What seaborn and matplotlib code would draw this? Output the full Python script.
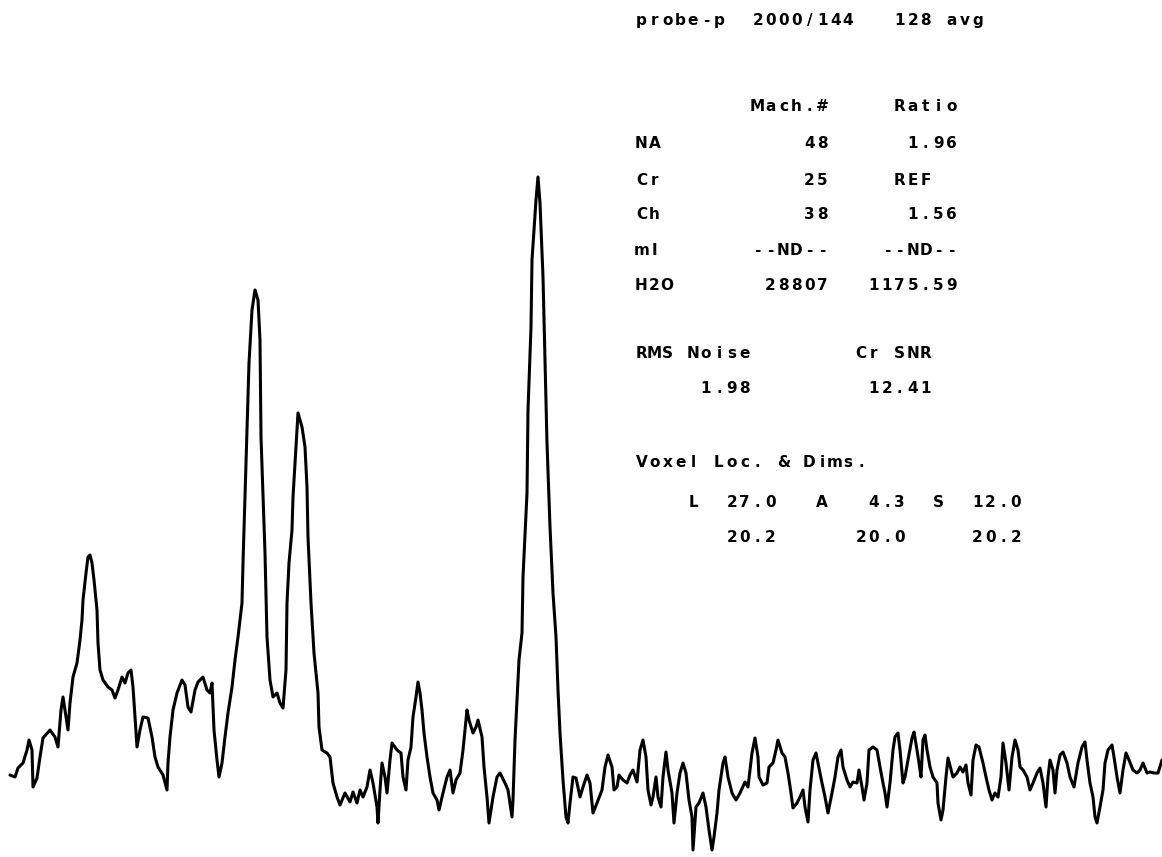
"""MR spectroscopy printout: single-voxel spectrum trace with the metabolite table."""
import matplotlib
matplotlib.use("Agg")
import matplotlib.pyplot as plt
import seaborn as sns
import pandas as pd

# spectrum (point position, intensity)
points = [10, 15, 18, 23, 27, 29, 32, 33, 37, 40, 43, 50, 55, 58, 61, 63, 67, 68, 70, 73,
          77, 80, 82, 83, 86, 88, 90, 92, 94, 97, 98, 100, 103, 108, 112, 115, 118, 122, 125, 128,
          131, 133, 135, 137, 140, 143, 148, 152, 155, 158, 163, 167, 168, 170, 173, 177, 182, 185, 188, 191,
          195, 198, 203, 207, 210, 212, 214, 217, 219, 222, 225, 228, 232, 235, 238, 242, 243, 245, 247, 249,
          252, 255, 258, 260, 261, 265, 267, 270, 273, 277, 280, 283, 286, 287, 289, 292, 293, 296, 298, 302,
          305, 307, 308, 311, 314, 318, 319, 322, 327, 330, 333, 337, 340, 345, 350, 353, 357, 360, 363, 367,
          370, 373, 377, 378, 380, 382, 385, 387, 390, 392, 397, 401, 403, 406, 408, 411, 413, 416, 418, 420,
          422, 424, 427, 430, 433, 437, 439, 443, 447, 450, 453, 456, 460, 463, 465, 467, 469, 473, 476, 478,
          482, 484, 487, 489, 493, 497, 500, 505, 508, 512, 513, 515, 517, 519, 522, 523, 527, 528, 531, 532,
          536, 538, 540, 543, 545, 547, 550, 553, 556, 558, 560, 563, 566, 568, 570, 573, 576, 580, 583, 587,
          590, 593, 597, 602, 605, 608, 612, 614, 617, 619, 623, 627, 630, 633, 637, 640, 643, 646, 648, 651,
          653, 656, 658, 661, 663, 666, 668, 672, 674, 677, 680, 683, 686, 689, 692, 693, 696, 699, 703, 706,
          709, 712, 714, 717, 719, 723, 725, 728, 732, 736, 740, 745, 748, 752, 755, 758, 759, 763, 767, 769,
          773, 776, 778, 782, 785, 788, 791, 793, 797, 800, 803, 805, 808, 810, 813, 816, 818, 822, 825, 828,
          832, 835, 838, 841, 843, 847, 850, 853, 857, 859, 862, 864, 867, 869, 873, 877, 880, 883, 885, 887,
          890, 893, 895, 898, 900, 903, 905, 908, 912, 914, 917, 919, 921, 923, 925, 927, 930, 933, 937, 938,
          941, 943, 946, 948, 952, 953, 957, 960, 963, 966, 968, 971, 973, 976, 979, 983, 986, 989, 992, 995,
          998, 1001, 1003, 1006, 1009, 1012, 1015, 1018, 1020, 1023, 1027, 1030, 1033, 1037, 1040, 1043, 1046, 1048, 1050, 1053,
          1055, 1057, 1060, 1063, 1067, 1070, 1074, 1078, 1082, 1085, 1087, 1090, 1093, 1095, 1097, 1100, 1103, 1105, 1108, 1112,
          1114, 1117, 1120, 1123, 1126, 1129, 1133, 1137, 1140, 1143, 1147, 1150, 1154, 1158, 1162]
intensity = [82, 80, 89, 94, 107, 117, 107, 70, 79, 100, 119, 127, 120, 110, 147, 160, 134, 127, 154, 180,
             194, 217, 237, 257, 284, 300, 302, 294, 277, 247, 214, 187, 177, 170, 167, 159, 167, 180, 174, 184,
             187, 170, 140, 110, 127, 140, 139, 120, 100, 90, 82, 67, 94, 120, 147, 164, 177, 172, 150, 145,
             167, 175, 180, 167, 164, 174, 127, 97, 80, 94, 120, 144, 170, 197, 220, 254, 294, 360, 427, 494,
             547, 567, 557, 517, 420, 304, 220, 177, 160, 164, 154, 149, 187, 254, 294, 327, 360, 410, 444, 430,
             410, 370, 320, 254, 204, 164, 130, 107, 104, 100, 74, 60, 52, 64, 55, 65, 54, 67, 60, 70,
             87, 74, 50, 34, 67, 94, 80, 64, 97, 114, 107, 104, 80, 67, 97, 110, 140, 160, 175, 164,
             147, 124, 100, 80, 64, 57, 47, 64, 80, 87, 64, 77, 84, 107, 127, 147, 137, 124, 130, 137,
             120, 90, 60, 34, 60, 80, 84, 74, 67, 40, 57, 117, 157, 197, 224, 280, 364, 447, 530, 597,
             657, 680, 654, 580, 497, 414, 330, 264, 220, 167, 124, 77, 40, 34, 54, 80, 79, 60, 70, 82,
             74, 44, 54, 67, 90, 102, 90, 67, 70, 82, 77, 74, 82, 87, 75, 107, 117, 100, 67, 52,
             60, 80, 60, 50, 80, 105, 87, 64, 34, 64, 84, 94, 84, 57, 40, 7, 50, 54, 64, 50,
             27, 7, 20, 44, 67, 94, 100, 80, 64, 57, 64, 75, 70, 104, 119, 100, 80, 72, 74, 90,
             94, 107, 117, 104, 100, 84, 64, 49, 54, 60, 67, 50, 35, 67, 97, 104, 94, 74, 60, 44,
             64, 80, 100, 107, 90, 77, 70, 75, 74, 87, 70, 57, 74, 107, 110, 107, 90, 74, 64, 50,
             74, 107, 120, 124, 107, 74, 80, 97, 119, 125, 107, 94, 80, 117, 122, 107, 90, 80, 74, 54,
             37, 47, 80, 99, 84, 80, 84, 90, 85, 92, 74, 62, 97, 112, 110, 94, 80, 67, 57, 64,
             60, 80, 114, 94, 67, 100, 117, 107, 90, 87, 80, 67, 74, 84, 89, 74, 50, 80, 97, 87,
             64, 87, 102, 105, 94, 80, 70, 94, 110, 115, 97, 74, 60, 40, 34, 50, 67, 94, 107, 112,
             100, 80, 64, 87, 104, 97, 87, 84, 87, 94, 84, 85, 84, 84, 97]

# printout text: (column, row, text)
header = [(1, 20, "probe-p"), (10, 20, "2000/144"), (21, 20, "128"), (25, 20, "avg")]
table = [(10, 106, "Mach.#"), (21, 106, "Ratio"),
         (1, 143, "NA"), (14, 143, "48"), (22, 143, "1.96"),
         (1, 180, "Cr"), (14, 180, "25"), (21, 180, "REF"),
         (1, 214, "Ch"), (14, 214, "38"), (22, 214, "1.56"),
         (1, 250, "mI"), (10, 250, "--ND--"), (20, 250, "--ND--"),
         (1, 285, "H2O"), (11, 285, "28807"), (19, 285, "1175.59")]
noise = [(1, 353, "RMS Noise"), (18, 353, "Cr SNR"),
         (6, 388, "1.98"), (19, 388, "12.41")]
voxel = [(1, 462, "Voxel Loc. & Dims."),
         (5, 502, "L"), (8, 502, "27.0"), (15, 502, "A"), (19, 502, "4.3"),
         (24, 502, "S"), (27, 502, "12.0"),
         (8, 537, "20.2"), (18, 537, "20.0"), (27, 537, "20.2")]

W, H = 1162, 857
X0, PITCH = 622, 12.92


def draw_text(ax, items):
    """Fixed-pitch printer text, one character per cell."""
    for col, row, text in items:
        for i, ch in enumerate(text):
            if ch == " ":
                continue
            ax.text(X0 + (col + i + 0.5) * PITCH, H - row, ch, ha="center", va="center",
                    fontsize=11, fontweight="bold", family="DejaVu Sans", color="black")


sns.set_style("white")
fig = plt.figure(figsize=(W / 100, H / 100), dpi=100)
ax = fig.add_axes([0, 0, 1, 1])

spec = pd.DataFrame({"point": points, "intensity": intensity})
sns.lineplot(data=spec, x="point", y="intensity", ax=ax, color="black",
             linewidth=2.2, sort=False, estimator=None)

ax.set_xlim(0, W)
ax.set_ylim(0, H)
ax.axis("off")

for block in (header, table, noise, voxel):
    draw_text(ax, block)

fig.savefig("out.png", dpi=100, facecolor="white")
